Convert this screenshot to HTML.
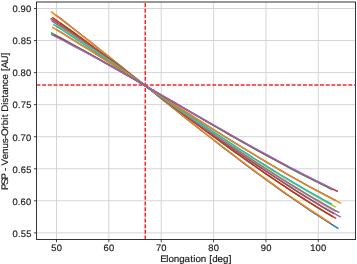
<!DOCTYPE html><html><head><meta charset="utf-8"><style>html,body{margin:0;padding:0;background:#fff;width:357px;height:264px;overflow:hidden}svg{display:block}text{text-rendering:geometricPrecision;font-family:"Liberation Sans",sans-serif;fill:#1e1e1e;stroke:#1e1e1e;stroke-width:0.2px}svg{will-change:transform}</style></head><body>
<svg width="357" height="264" viewBox="0 0 357 264">
<rect width="357" height="264" fill="#fff"/>
<path d="M56.50 2.0V239.5 M108.86 2.0V239.5 M161.22 2.0V239.5 M213.58 2.0V239.5 M265.94 2.0V239.5 M318.30 2.0V239.5 M36.5 232.85H355.5 M36.5 200.80H355.5 M36.5 168.75H355.5 M36.5 136.70H355.5 M36.5 104.65H355.5 M36.5 72.60H355.5 M36.5 40.55H355.5 M36.5 8.50H355.5" stroke="#d0d0d0" stroke-width="0.9" fill="none"/>
<path d="M36.5 84.95H355.5" stroke="#ff2525" stroke-width="1.5" stroke-dasharray="3.96 1.71" fill="none"/>
<path d="M145.25 239.5V2.0" stroke="#ff2525" stroke-width="1.5" stroke-dasharray="3.96 1.71" fill="none"/>
<g fill="none" stroke-width="1.45" stroke-linecap="butt" stroke-linejoin="round">
<path d="M56.00 15.05 L62.01 19.68 L68.02 24.33 L74.03 29.01 L80.04 33.72 L86.05 38.45 L92.06 43.19 L98.07 47.96 L104.09 52.74 L110.10 57.53 L116.11 62.33 L122.12 67.15 L128.13 71.97 L134.14 76.79 L140.15 81.62 L146.16 86.45 L152.17 91.27 L158.18 96.10 L164.19 100.91 L170.20 105.72 L176.21 110.53 L182.22 115.31 L188.23 120.09 L194.24 124.84 L200.26 129.58 L206.27 134.30 L212.28 139.00 L218.29 143.67 L224.30 148.31 L230.31 152.93 L236.32 157.51 L242.33 162.06 L248.34 166.58 L254.35 171.06 L260.36 175.50 L266.37 179.89 L272.38 184.24 L278.39 188.55 L284.40 192.81 L290.41 197.02 L296.43 201.17 L302.44 205.27 L308.45 209.32 L314.46 213.30 L320.47 217.23 L326.48 221.09 L332.49 224.89 L338.50 228.62" stroke="#1f77b4"/>
<path d="M51.00 11.57 L56.95 16.11 L62.91 20.67 L68.86 25.27 L74.81 29.89 L80.77 34.53 L86.72 39.19 L92.67 43.87 L98.63 48.57 L104.58 53.29 L110.53 58.01 L116.49 62.75 L122.44 67.49 L128.39 72.24 L134.34 77.00 L140.30 81.76 L146.25 86.52 L152.20 91.27 L158.16 96.03 L164.11 100.77 L170.06 105.51 L176.02 110.24 L181.97 114.96 L187.92 119.66 L193.88 124.35 L199.83 129.02 L205.78 133.67 L211.74 138.29 L217.69 142.90 L223.64 147.47 L229.60 152.02 L235.55 156.54 L241.50 161.02 L247.46 165.47 L253.41 169.89 L259.36 174.26 L265.31 178.60 L271.27 182.89 L277.22 187.14 L283.17 191.34 L289.13 195.49 L295.08 199.59 L301.03 203.64 L306.99 207.64 L312.94 211.57 L318.89 215.45 L324.85 219.27 L330.80 223.02" stroke="#ff7f0e"/>
<path d="M60.00 22.56 L65.80 26.74 L71.61 30.94 L77.41 35.17 L83.22 39.41 L89.02 43.68 L94.83 47.97 L100.63 52.27 L106.43 56.59 L112.24 60.92 L118.04 65.27 L123.85 69.62 L129.65 73.98 L135.46 78.34 L141.26 82.71 L147.06 87.08 L152.87 91.45 L158.67 95.81 L164.48 100.18 L170.28 104.54 L176.09 108.89 L181.89 113.23 L187.69 117.56 L193.50 121.88 L199.30 126.18 L205.11 130.47 L210.91 134.74 L216.71 138.99 L222.52 143.22 L228.32 147.42 L234.13 151.60 L239.93 155.75 L245.74 159.87 L251.54 163.96 L257.34 168.02 L263.15 172.04 L268.95 176.03 L274.76 179.97 L280.56 183.88 L286.37 187.75 L292.17 191.57 L297.97 195.34 L303.78 199.07 L309.58 202.75 L315.39 206.38 L321.19 209.95 L327.00 213.47 L332.80 216.94" stroke="#2ca02c"/>
<path d="M52.20 17.39 L58.24 21.67 L64.29 25.99 L70.33 30.33 L76.37 34.69 L82.41 39.08 L88.46 43.50 L94.50 47.93 L100.54 52.39 L106.58 56.86 L112.63 61.34 L118.67 65.84 L124.71 70.34 L130.75 74.86 L136.80 79.38 L142.84 83.90 L148.88 88.43 L154.92 92.96 L160.97 97.48 L167.01 102.00 L173.05 106.52 L179.09 111.02 L185.14 115.52 L191.18 120.00 L197.22 124.47 L203.26 128.92 L209.31 133.36 L215.35 137.77 L221.39 142.16 L227.43 146.52 L233.48 150.86 L239.52 155.17 L245.56 159.45 L251.60 163.70 L257.65 167.91 L263.69 172.08 L269.73 176.21 L275.77 180.31 L281.82 184.35 L287.86 188.36 L293.90 192.31 L299.94 196.22 L305.99 200.08 L312.03 203.88 L318.07 207.62 L324.11 211.31 L330.16 214.94 L336.20 218.50" stroke="#d62728"/>
<path d="M51.50 19.06 L57.65 23.27 L63.81 27.52 L69.96 31.79 L76.11 36.09 L82.27 40.42 L88.42 44.78 L94.57 49.15 L100.73 53.54 L106.88 57.95 L113.03 62.38 L119.19 66.82 L125.34 71.26 L131.49 75.72 L137.64 80.18 L143.80 84.65 L149.95 89.12 L156.10 93.59 L162.26 98.06 L168.41 102.53 L174.56 106.99 L180.72 111.43 L186.87 115.87 L193.02 120.30 L199.18 124.71 L205.33 129.11 L211.48 133.48 L217.64 137.84 L223.79 142.17 L229.94 146.47 L236.10 150.75 L242.25 155.00 L248.40 159.22 L254.56 163.40 L260.71 167.55 L266.86 171.66 L273.01 175.72 L279.17 179.75 L285.32 183.73 L291.47 187.67 L297.63 191.55 L303.78 195.39 L309.93 199.17 L316.09 202.89 L322.24 206.56 L328.39 210.17 L334.55 213.72 L340.70 217.20" stroke="#9467bd"/>
<path d="M50.60 18.31 L56.64 22.44 L62.67 26.61 L68.71 30.81 L74.74 35.03 L80.78 39.28 L86.82 43.56 L92.85 47.85 L98.89 52.16 L104.93 56.49 L110.96 60.84 L117.00 65.20 L123.03 69.57 L129.07 73.94 L135.11 78.33 L141.14 82.72 L147.18 87.11 L153.21 91.51 L159.25 95.90 L165.29 100.29 L171.32 104.67 L177.36 109.05 L183.40 113.42 L189.43 117.78 L195.47 122.12 L201.50 126.45 L207.54 130.76 L213.58 135.06 L219.61 139.33 L225.65 143.58 L231.69 147.80 L237.72 152.00 L243.76 156.16 L249.79 160.30 L255.83 164.40 L261.87 168.47 L267.90 172.50 L273.94 176.49 L279.97 180.44 L286.01 184.35 L292.05 188.21 L298.08 192.02 L304.12 195.78 L310.16 199.50 L316.19 203.16 L322.23 206.76 L328.26 210.31 L334.30 213.80" stroke="#8c564b"/>
<path d="M50.80 19.91 L56.87 23.98 L62.94 28.08 L69.00 32.21 L75.07 36.37 L81.14 40.55 L87.21 44.75 L93.28 48.98 L99.34 53.22 L105.41 57.48 L111.48 61.75 L117.55 66.04 L123.62 70.34 L129.69 74.64 L135.75 78.95 L141.82 83.27 L147.89 87.58 L153.96 91.90 L160.03 96.22 L166.09 100.53 L172.16 104.84 L178.23 109.14 L184.30 113.43 L190.37 117.70 L196.43 121.97 L202.50 126.22 L208.57 130.45 L214.64 134.66 L220.71 138.85 L226.77 143.02 L232.84 147.16 L238.91 151.27 L244.98 155.35 L251.05 159.40 L257.11 163.42 L263.18 167.40 L269.25 171.35 L275.32 175.25 L281.39 179.12 L287.46 182.94 L293.52 186.71 L299.59 190.44 L305.66 194.12 L311.73 197.74 L317.80 201.32 L323.86 204.83 L329.93 208.29 L336.00 211.69" stroke="#e377c2"/>
<path d="M52.00 21.03 L58.12 25.12 L64.23 29.25 L70.35 33.40 L76.47 37.58 L82.59 41.78 L88.70 46.00 L94.82 50.24 L100.94 54.50 L107.05 58.78 L113.17 63.07 L119.29 67.37 L125.40 71.68 L131.52 76.00 L137.64 80.32 L143.76 84.65 L149.87 88.98 L155.99 93.30 L162.11 97.63 L168.22 101.95 L174.34 106.26 L180.46 110.56 L186.57 114.86 L192.69 119.14 L198.81 123.40 L204.93 127.65 L211.04 131.88 L217.16 136.09 L223.28 140.27 L229.39 144.43 L235.51 148.56 L241.63 152.66 L247.74 156.74 L253.86 160.78 L259.98 164.78 L266.10 168.75 L272.21 172.67 L278.33 176.56 L284.45 180.40 L290.56 184.20 L296.68 187.95 L302.80 191.65 L308.91 195.30 L315.03 198.90 L321.15 202.44 L327.27 205.92 L333.38 209.35 L339.50 212.71" stroke="#7f7f7f"/>
<path d="M56.50 25.34 L62.44 29.26 L68.39 33.21 L74.33 37.18 L80.27 41.17 L86.21 45.18 L92.16 49.21 L98.10 53.26 L104.04 57.32 L109.98 61.39 L115.93 65.47 L121.87 69.56 L127.81 73.66 L133.75 77.76 L139.70 81.87 L145.64 85.97 L151.58 90.08 L157.52 94.18 L163.47 98.28 L169.41 102.37 L175.35 106.46 L181.29 110.53 L187.24 114.60 L193.18 118.65 L199.12 122.68 L205.06 126.70 L211.01 130.70 L216.95 134.68 L222.89 138.64 L228.83 142.57 L234.78 146.48 L240.72 150.36 L246.66 154.21 L252.60 158.03 L258.55 161.81 L264.49 165.56 L270.43 169.28 L276.37 172.95 L282.32 176.59 L288.26 180.18 L294.20 183.73 L300.14 187.24 L306.09 190.70 L312.03 194.11 L317.97 197.46 L323.91 200.77 L329.86 204.02 L335.80 207.22" stroke="#bcbd22"/>
<path d="M53.30 24.35 L59.23 28.16 L65.16 32.00 L71.09 35.87 L77.02 39.77 L82.95 43.68 L88.88 47.62 L94.81 51.57 L100.74 55.54 L106.67 59.53 L112.60 63.53 L118.53 67.54 L124.46 71.56 L130.39 75.59 L136.32 79.62 L142.25 83.66 L148.18 87.70 L154.11 91.74 L160.04 95.78 L165.97 99.81 L171.90 103.84 L177.83 107.87 L183.76 111.88 L189.69 115.89 L195.61 119.88 L201.54 123.86 L207.47 127.82 L213.40 131.77 L219.33 135.69 L225.26 139.60 L231.19 143.48 L237.12 147.34 L243.05 151.17 L248.98 154.97 L254.91 158.74 L260.84 162.48 L266.77 166.19 L272.70 169.86 L278.63 173.50 L284.56 177.09 L290.49 180.65 L296.42 184.16 L302.35 187.63 L308.28 191.05 L314.21 194.42 L320.14 197.74 L326.07 201.02 L332.00 204.24" stroke="#17becf"/>
<path d="M56.00 29.36 L61.96 32.98 L67.91 36.63 L73.87 40.31 L79.83 44.01 L85.79 47.73 L91.74 51.47 L97.70 55.23 L103.66 59.01 L109.62 62.80 L115.57 66.61 L121.53 70.43 L127.49 74.25 L133.45 78.09 L139.40 81.93 L145.36 85.77 L151.32 89.62 L157.28 93.47 L163.23 97.31 L169.19 101.16 L175.15 105.00 L181.11 108.83 L187.06 112.66 L193.02 116.47 L198.98 120.28 L204.94 124.07 L210.89 127.84 L216.85 131.60 L222.81 135.34 L228.77 139.06 L234.72 142.76 L240.68 146.43 L246.64 150.08 L252.60 153.70 L258.55 157.29 L264.51 160.86 L270.47 164.38 L276.43 167.88 L282.38 171.34 L288.34 174.76 L294.30 178.14 L300.26 181.48 L306.21 184.77 L312.17 188.02 L318.13 191.23 L324.09 194.39 L330.04 197.49 L336.00 200.55" stroke="#1f77b4"/>
<path d="M52.10 27.01 L58.25 30.72 L64.39 34.47 L70.54 38.24 L76.69 42.05 L82.83 45.87 L88.98 49.72 L95.13 53.60 L101.27 57.49 L107.42 61.39 L113.57 65.32 L119.71 69.25 L125.86 73.20 L132.01 77.15 L138.16 81.12 L144.30 85.09 L150.45 89.06 L156.60 93.03 L162.74 97.01 L168.89 100.98 L175.04 104.94 L181.18 108.90 L187.33 112.85 L193.48 116.80 L199.62 120.73 L205.77 124.64 L211.92 128.54 L218.06 132.42 L224.21 136.28 L230.36 140.12 L236.50 143.94 L242.65 147.73 L248.80 151.49 L254.94 155.22 L261.09 158.92 L267.24 162.59 L273.39 166.22 L279.53 169.82 L285.68 173.37 L291.83 176.89 L297.97 180.36 L304.12 183.79 L310.27 187.17 L316.41 190.50 L322.56 193.78 L328.71 197.01 L334.85 200.18 L341.00 203.30" stroke="#ff7f0e"/>
<path d="M50.90 32.60 L56.90 35.79 L62.89 39.01 L68.89 42.27 L74.88 45.56 L80.88 48.87 L86.87 52.21 L92.87 55.57 L98.87 58.95 L104.86 62.36 L110.86 65.78 L116.85 69.22 L122.85 72.68 L128.84 76.15 L134.84 79.63 L140.84 83.12 L146.83 86.62 L152.83 90.12 L158.82 93.63 L164.82 97.15 L170.81 100.66 L176.81 104.18 L182.81 107.69 L188.80 111.20 L194.80 114.70 L200.79 118.20 L206.79 121.68 L212.79 125.16 L218.78 128.62 L224.78 132.07 L230.77 135.51 L236.77 138.92 L242.76 142.32 L248.76 145.70 L254.76 149.05 L260.75 152.38 L266.75 155.68 L272.74 158.96 L278.74 162.20 L284.73 165.42 L290.73 168.60 L296.73 171.75 L302.72 174.86 L308.72 177.93 L314.71 180.96 L320.71 183.95 L326.70 186.90 L332.70 189.80" stroke="#2ca02c"/>
<path d="M54.00 34.95 L60.04 38.13 L66.08 41.34 L72.11 44.58 L78.15 47.85 L84.19 51.16 L90.23 54.48 L96.27 57.83 L102.31 61.21 L108.34 64.60 L114.38 68.01 L120.42 71.45 L126.46 74.89 L132.50 78.35 L138.54 81.82 L144.57 85.30 L150.61 88.79 L156.65 92.29 L162.69 95.79 L168.73 99.29 L174.77 102.80 L180.80 106.30 L186.84 109.81 L192.88 113.30 L198.92 116.80 L204.96 120.28 L211.00 123.76 L217.03 127.22 L223.07 130.68 L229.11 134.11 L235.15 137.54 L241.19 140.94 L247.23 144.32 L253.26 147.68 L259.30 151.02 L265.34 154.34 L271.38 157.62 L277.42 160.88 L283.46 164.11 L289.49 167.31 L295.53 170.47 L301.57 173.59 L307.61 176.68 L313.65 179.73 L319.69 182.74 L325.72 185.71 L331.76 188.63 L337.80 191.51" stroke="#d62728"/>
<path d="M51.00 34.29 L57.00 37.36 L63.00 40.46 L69.00 43.59 L75.00 46.76 L81.00 49.96 L87.00 53.19 L93.00 56.44 L99.00 59.73 L105.00 63.03 L111.00 66.36 L117.00 69.71 L123.00 73.07 L129.00 76.46 L135.00 79.86 L141.00 83.27 L147.00 86.69 L153.00 90.13 L159.00 93.57 L165.00 97.02 L171.00 100.47 L177.00 103.93 L183.00 107.39 L189.00 110.84 L195.00 114.30 L201.00 117.75 L207.00 121.20 L213.00 124.64 L219.00 128.06 L225.00 131.48 L231.00 134.89 L237.00 138.28 L243.00 141.65 L249.00 145.01 L255.00 148.35 L261.00 151.66 L267.00 154.96 L273.00 158.22 L279.00 161.46 L285.00 164.67 L291.00 167.86 L297.00 171.01 L303.00 174.12 L309.00 177.20 L315.00 180.24 L321.00 183.25 L327.00 186.21 L333.00 189.13" stroke="#9467bd"/>
</g>
<rect x="36.5" y="2.0" width="319.0" height="237.5" fill="none" stroke="#333" stroke-width="1"/>
<path d="M56.50 239.5v2.8 M108.86 239.5v2.8 M161.22 239.5v2.8 M213.58 239.5v2.8 M265.94 239.5v2.8 M318.30 239.5v2.8 M36.5 232.85h-2.6 M36.5 200.80h-2.6 M36.5 168.75h-2.6 M36.5 136.70h-2.6 M36.5 104.65h-2.6 M36.5 72.60h-2.6 M36.5 40.55h-2.6 M36.5 8.50h-2.6" stroke="#333" stroke-width="0.9" fill="none"/>
<text x="51.22 56.66" y="250.80" font-size="9.4" transform="scale(1.0 1)">50</text>
<text x="103.61 109.05" y="250.80" font-size="9.4" transform="scale(1.0 1)">60</text>
<text x="155.92 161.36" y="250.80" font-size="9.4" transform="scale(1.0 1)">70</text>
<text x="208.34 213.78" y="250.80" font-size="9.4" transform="scale(1.0 1)">80</text>
<text x="260.72 266.16" y="250.80" font-size="9.4" transform="scale(1.0 1)">90</text>
<text x="310.16 315.60 321.04" y="250.80" font-size="9.4" transform="scale(1.0 1)">100</text>
<text x="12.62 18.00 20.77 26.21" y="236.65" font-size="9.4" transform="scale(1.0 1)">0.55</text>
<text x="12.44 17.82 20.59 26.03" y="204.60" font-size="9.4" transform="scale(1.0 1)">0.60</text>
<text x="12.62 18.00 20.77 26.21" y="172.55" font-size="9.4" transform="scale(1.0 1)">0.65</text>
<text x="12.44 17.82 20.59 26.03" y="140.50" font-size="9.4" transform="scale(1.0 1)">0.70</text>
<text x="12.62 18.00 20.77 26.21" y="108.45" font-size="9.4" transform="scale(1.0 1)">0.75</text>
<text x="12.44 17.82 20.59 26.03" y="76.40" font-size="9.4" transform="scale(1.0 1)">0.80</text>
<text x="12.62 18.00 20.77 26.21" y="44.35" font-size="9.4" transform="scale(1.0 1)">0.85</text>
<text x="12.44 17.82 20.59 26.03" y="12.30" font-size="9.4" transform="scale(1.0 1)">0.90</text>
<text x="155.53 161.42 163.53 168.70 173.96 179.14 184.63 187.68 189.78 194.95 200.22 203.16 206.10 211.28 216.47 222.05" y="262.00" font-size="9.5" transform="scale(1.03 1)">Elongation [deg]</text>
<g transform="translate(7.7 189.5) rotate(-90)"><text x="-0.50 4.64 9.78 15.45 18.00 21.08 23.39 29.31 34.50 39.76 44.82 49.27 51.92 59.01 62.29 67.66 70.18 73.13 75.53 82.26 84.25 89.10 91.95 97.12 102.30 106.87 112.06 115.00 117.61 123.23 129.99" y="0.00" font-size="9.5" transform="scale(1.03 1)">PSP - Venus-Orbit Distance [AU]</text></g>
</svg></body></html>
